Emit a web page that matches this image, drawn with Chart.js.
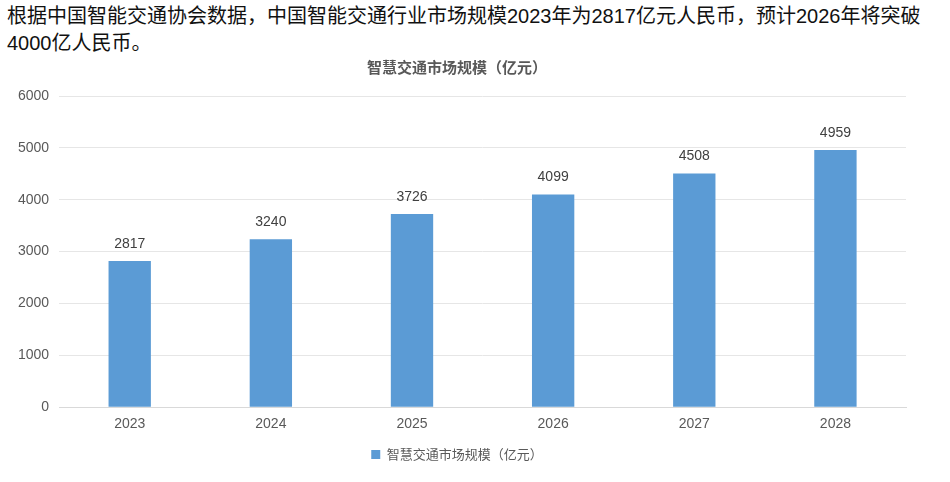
<!DOCTYPE html>
<html>
<head>
<meta charset="utf-8">
<script src="https://cdn.jsdelivr.net/npm/chart.js@4/dist/chart.umd.min.js"></script>
<style>
  body { margin: 0; background: #fff; width: 950px; height: 482px; overflow: hidden; position: relative; }
  #intro { position: absolute; left: 7px; top: 3px; width: 940px; font: 20px "Liberation Sans", "Noto Sans CJK SC", sans-serif; line-height: 27px; color: #111; }
  #wrap { position: absolute; left: 0; top: 55px; width: 950px; height: 427px; }
</style>
</head>
<body>
<div id="intro">根据中国智能交通协会数据，中国智能交通行业市场规模2023年为2817亿元人民币，预计2026年将突破4000亿人民币。</div>
<div id="wrap"><canvas id="c"></canvas></div>
<script>
// 年份与市场规模（亿元）
const years = ['2023', '2024', '2025', '2026', '2027', '2028'];
const marketSize = [2817, 3240, 3726, 4099, 4508, 4959];
const yTicks = [0, 1000, 2000, 3000, 4000, 5000, 6000];

const barColor = '#5b9bd5';
const textColor = '#595959';
const font = '"Liberation Sans", "Noto Sans CJK SC", sans-serif';
const cjkFont = '"Noto Sans CJK SC", sans-serif';

// 柱顶数值
const valueLabels = {
    id: 'valueLabels',
    afterDatasetsDraw(chart) {
        const ctx = chart.ctx;
        ctx.save();
        ctx.font = '14px ' + font;
        ctx.fillStyle = '#404040';
        ctx.textAlign = 'center';
        ctx.textBaseline = 'bottom';
        chart.getDatasetMeta(0).data.forEach((bar, i) => {
            ctx.fillText(marketSize[i], bar.x, bar.y - 10);
        });
        ctx.restore();
    }
};

new Chart(document.getElementById('c'), {
    type: 'bar',
    data: {
        labels: years,
        datasets: [{
            label: '智慧交通市场规模（亿元）',
            data: marketSize,
            backgroundColor: barColor,
            categoryPercentage: 1,
            barPercentage: 0.3
        }]
    },
    options: {
        responsive: true,
        maintainAspectRatio: false,
        animation: false,
        layout: { padding: { left: 8, right: 44, top: 0, bottom: 11 } },
        plugins: {
            title: {
                display: true,
                text: '智慧交通市场规模（亿元）',
                color: textColor,
                font: { family: cjkFont, size: 15, weight: 'bold' },
                padding: { top: 3, bottom: 20 }
            },
            legend: {
                position: 'bottom',
                labels: {
                    color: textColor,
                    font: { family: cjkFont, size: 13 },
                    boxWidth: 9,
                    boxHeight: 9,
                    padding: 14
                }
            },
            tooltip: { enabled: false }
        },
        scales: {
            x: {
                grid: { display: false },
                border: { color: '#d9d9d9' },
                ticks: { color: textColor, font: { family: font, size: 14 }, padding: 1 }
            },
            y: {
                min: 0,
                max: 6000,
                afterBuildTicks: axis => { axis.ticks = yTicks.map(v => ({ value: v })); },
                grid: { color: '#e6e6e6', drawTicks: false },
                border: { display: false },
                ticks: {
                    color: textColor,
                    font: { family: font, size: 14 },
                    padding: 10,
                    callback: v => String(v)
                }
            }
        }
    },
    plugins: [valueLabels]
});
</script>
</body>
</html>
